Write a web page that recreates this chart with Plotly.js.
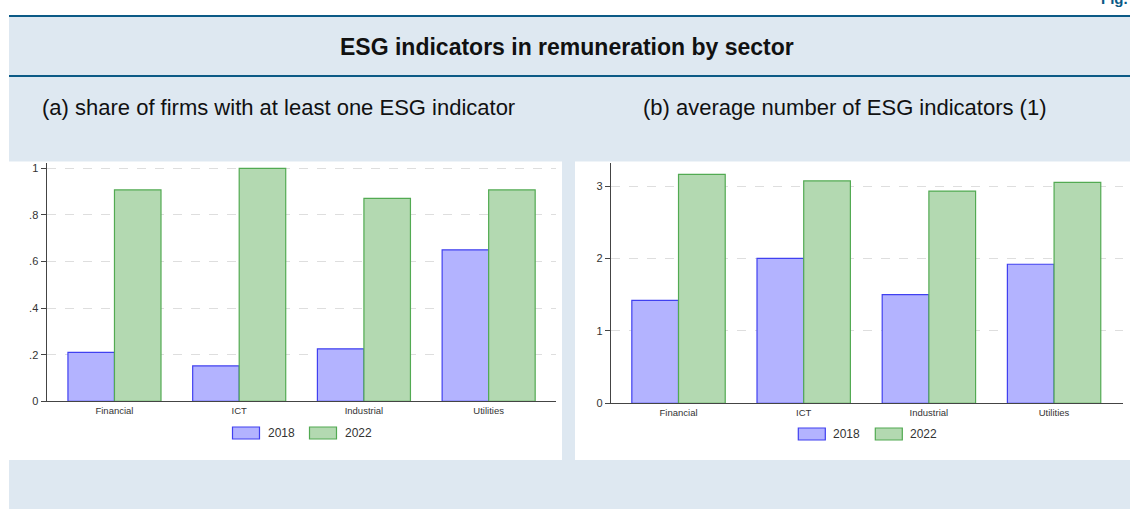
<!DOCTYPE html>
<html>
<head>
<meta charset="utf-8">
<script src="https://cdn.plot.ly/plotly-3.0.1.min.js"></script>
<style>
  html, body { margin: 0; padding: 0; background: white; }
  #chart { width: 1130px; height: 509px; }
</style>
</head>
<body>
<div id="chart"></div>
<script>
// ESG indicators in remuneration by sector, two bar panels side by side.
const sectors = ["Financial", "ICT", "Industrial", "Utilities"];
const years = ["2018", "2022"];
const share2018 = [0.21, 0.152, 0.225, 0.65];
const share2022 = [0.907, 1.0, 0.871, 0.907];
const avg2018 = [1.42, 2.0, 1.50, 1.92];
const avg2022 = [3.16, 3.07, 2.93, 3.05];
const shareTicks = [0, 0.2, 0.4, 0.6, 0.8, 1];
const shareTickText = ["0", ".2", ".4", ".6", ".8", "1"];
const avgTicks = [0, 1, 2, 3];

const W = 1130, H = 509;
const px = (x) => x / W;          // pixel -> paper x
const py = (y) => 1 - y / H;      // pixel -> paper y

const COL = {
  panel: "#dee8f1",
  rule: "#0b5a86",
  text: "#111111",
  tick: "#333333",
  axis: "#444444",
  grid: "#dedede",
  fill18: "#b3b3ff",
  line18: "#4040f0",
  fill22: "#b3d9b1",
  line22: "#52aa52",
};
const FONT = "Liberation Sans, Arial, sans-serif";

function bar(x, y, name, fill, line, xa, ya) {
  return {
    type: "bar", x: x, y: y, name: name, xaxis: xa, yaxis: ya,
    marker: { color: fill, line: { color: line, width: 1.2 } },
    showlegend: false, hoverinfo: "skip",
  };
}

const traces = [
  bar(sectors, share2018, years[0], COL.fill18, COL.line18, "x", "y"),
  bar(sectors, share2022, years[1], COL.fill22, COL.line22, "x", "y"),
  bar(sectors, avg2018, years[0], COL.fill18, COL.line18, "x2", "y2"),
  bar(sectors, avg2022, years[1], COL.fill22, COL.line22, "x2", "y2"),
];

function xAxis(d0, d1, range, anchor) {
  return {
    domain: [px(d0), px(d1)], range: range, anchor: anchor, type: "category",
    showline: true, linecolor: COL.axis, linewidth: 1, ticks: "", showgrid: false,
    tickfont: { family: FONT, size: 9.5, color: COL.tick }, fixedrange: true,
  };
}
function yAxis(top, bottom, range, vals, text, anchor) {
  return {
    domain: [py(bottom), py(top)], range: range, anchor: anchor,
    tickvals: vals, ticktext: text,
    showline: true, linecolor: COL.axis, linewidth: 1,
    ticks: "outside", ticklen: 5, tickcolor: COL.axis, tickwidth: 1,
    showgrid: true, gridcolor: COL.grid, griddash: "dash", gridwidth: 1, zeroline: false,
    tickfont: { family: FONT, size: 11, color: COL.tick }, fixedrange: true,
  };
}

// Plot frames in pixels: [left, right, top, bottom(y=0)]
const frameA = [46.5, 555.5, 162.7, 401.3];
const frameB = [610.8, 1122.8, 163.3, 403.3];

const shapes = [
  // light-blue box and its two rules
  { type: "rect", xref: "paper", yref: "paper", x0: px(9), x1: px(W), y0: py(H), y1: py(16),
    fillcolor: COL.panel, line: { width: 0 }, layer: "below" },
  { type: "line", xref: "paper", yref: "paper", x0: px(9), x1: px(W), y0: py(16), y1: py(16),
    line: { color: COL.rule, width: 2 }, layer: "below" },
  { type: "line", xref: "paper", yref: "paper", x0: px(9), x1: px(W), y0: py(76), y1: py(76),
    line: { color: COL.rule, width: 2 }, layer: "below" },
  // white chart panels
  { type: "rect", xref: "paper", yref: "paper", x0: px(9), x1: px(562), y0: py(460), y1: py(161.5),
    fillcolor: "white", line: { width: 0 }, layer: "below" },
  { type: "rect", xref: "paper", yref: "paper", x0: px(575), x1: px(W), y0: py(460), y1: py(161.5),
    fillcolor: "white", line: { width: 0 }, layer: "below" },
];

const annotations = [
  { text: "<b>ESG indicators in remuneration by sector</b>", xref: "paper", yref: "paper",
    x: px(567), y: py(47), xanchor: "center", yanchor: "middle", showarrow: false,
    font: { family: FONT, size: 23, color: COL.text } },
  { text: "(a) share of firms with at least one ESG indicator", xref: "paper", yref: "paper",
    x: px(40), y: py(107), xanchor: "left", yanchor: "middle", showarrow: false,
    font: { family: FONT, size: 22, color: COL.text } },
  { text: "(b) average number of ESG indicators (1)", xref: "paper", yref: "paper",
    x: px(641), y: py(107), xanchor: "left", yanchor: "middle", showarrow: false,
    font: { family: FONT, size: 22, color: COL.text } },
  { text: "<b>Fig.</b>", xref: "paper", yref: "paper",
    x: 1, y: py(9), xanchor: "right", yanchor: "bottom", showarrow: false,
    font: { family: FONT, size: 15, color: COL.rule } },
];

// Legend under each panel: wide swatches like the original.
function addLegend(frame, yc) {
  const c = (frame[0] + frame[1]) / 2;
  const items = [
    { name: years[0], fill: COL.fill18, line: COL.line18, x0: c - 68.5 },
    { name: years[1], fill: COL.fill22, line: COL.line22, x0: c + 8.5 },
  ];
  items.forEach((it) => {
    shapes.push({ type: "rect", xref: "paper", yref: "paper",
      x0: px(it.x0), x1: px(it.x0 + 27), y0: py(yc + 6), y1: py(yc - 6),
      fillcolor: it.fill, line: { color: it.line, width: 1.2 } });
    annotations.push({ text: it.name, xref: "paper", yref: "paper",
      x: px(it.x0 + 33), y: py(yc), xanchor: "left", yanchor: "middle", showarrow: false,
      font: { family: FONT, size: 12, color: COL.tick } });
  });
}
addLegend(frameA, 433);
addLegend(frameB, 434);

const layout = {
  width: W, height: H,
  margin: { l: 0, r: 0, t: 0, b: 0 },
  paper_bgcolor: "white",
  plot_bgcolor: "rgba(0,0,0,0)",
  font: { family: FONT, color: COL.tick },
  showlegend: false,
  barmode: "group", bargap: 0.254, bargroupgap: 0,
  xaxis: xAxis(frameA[0], frameA[1], [-0.545, 3.536], "y"),
  yaxis: yAxis(frameA[2], frameA[3], [0, 1.024], shareTicks, shareTickText, "x"),
  xaxis2: xAxis(frameB[0], frameB[1], [-0.541, 3.549], "y2"),
  yaxis2: yAxis(frameB[2], frameB[3], [0, 3.314], avgTicks, avgTicks.map(String), "x2"),
  shapes: shapes,
  annotations: annotations,
};

Plotly.newPlot("chart", traces, layout, { displayModeBar: false, staticPlot: true });
</script>
</body>
</html>
